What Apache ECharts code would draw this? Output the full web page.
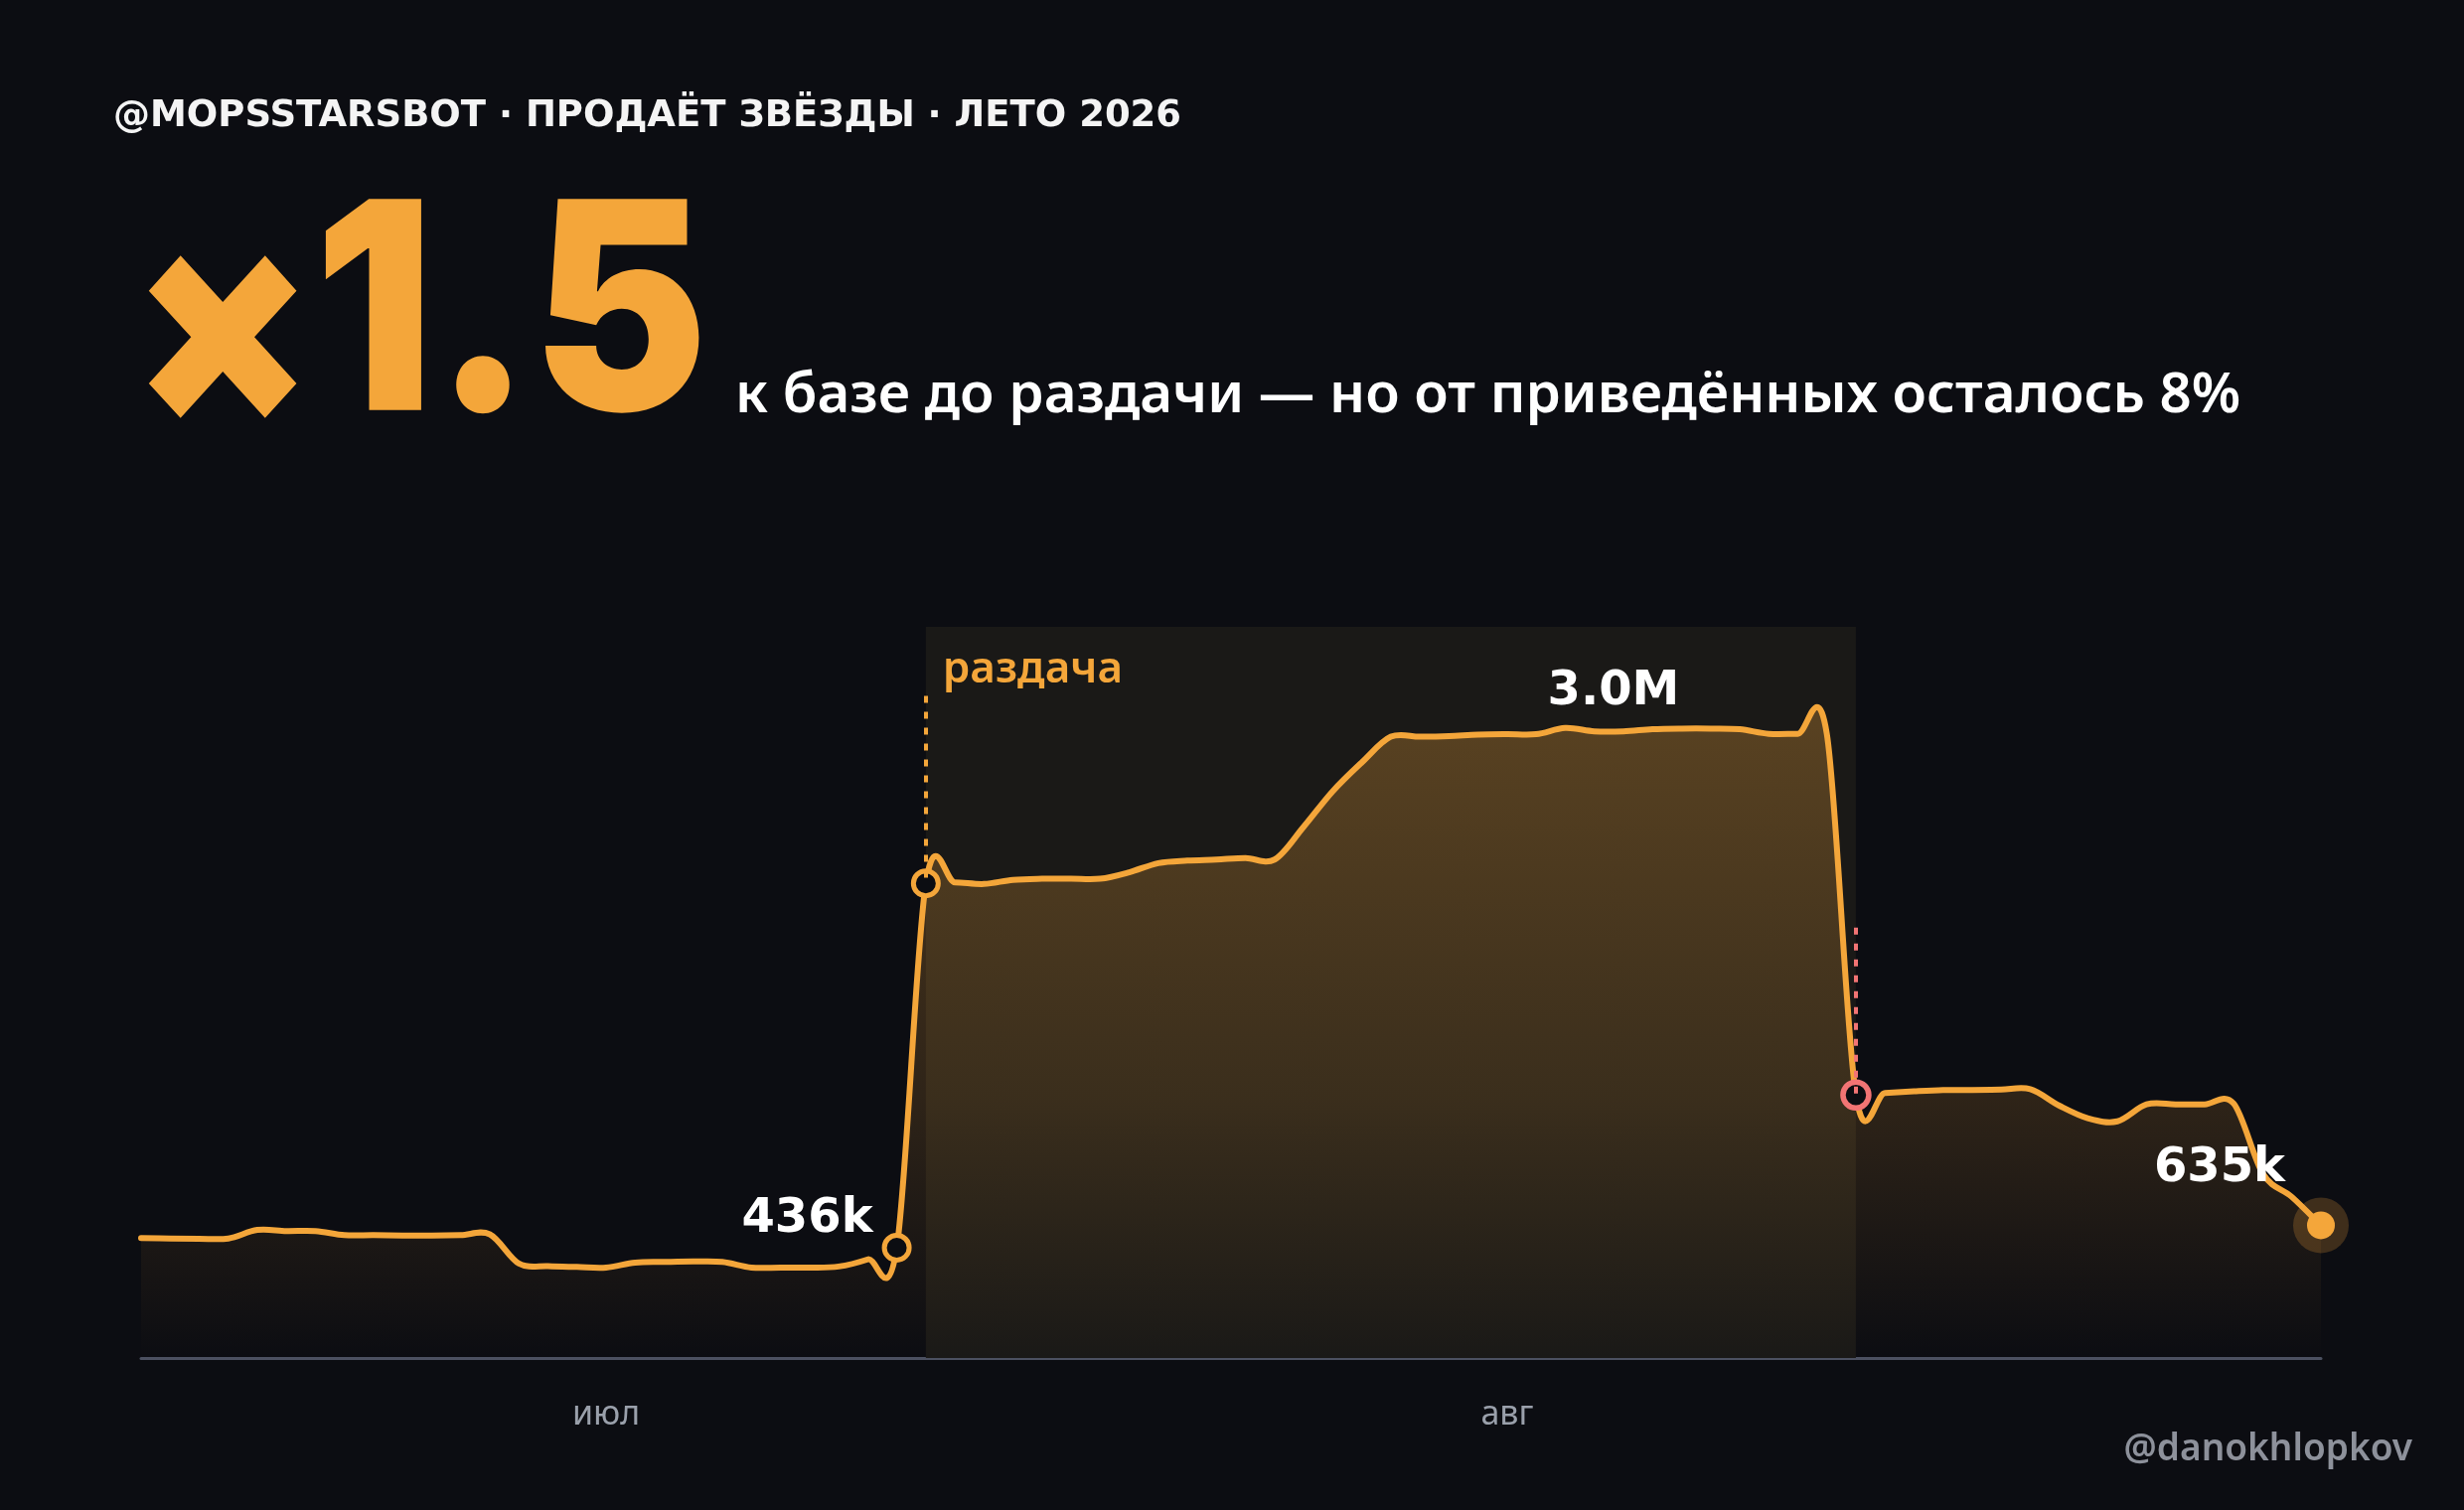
<!DOCTYPE html>
<html>
<head>
<meta charset="utf-8">
<script src="https://cdn.jsdelivr.net/npm/echarts@6/dist/echarts.min.js"></script>
<style>
  html, body { margin: 0; padding: 0; background: #0c0d12; }
  #chart { width: 2480px; height: 1520px; }
</style>
</head>
<body>
<div id="chart"></div>
<script>
// --- данные: аудитория по дням, млн ---
var START_DATE = '2026-06-15';
var AUDIENCE_M = [
  0.574, 0.572, 0.571, 0.572, 0.613, 0.608, 0.608, 0.588, 0.588, 0.586,
  0.586, 0.588, 0.592, 0.452, 0.440, 0.436, 0.433, 0.457, 0.460, 0.462,
  0.460, 0.433, 0.433, 0.433, 0.438, 0.472, 0.528, 2.272, 2.277, 2.269,
  2.289, 2.294, 2.294, 2.294, 2.325, 2.369, 2.381, 2.386, 2.393, 2.386,
  2.543, 2.713, 2.851, 2.974, 2.974, 2.977, 2.984, 2.986, 2.986, 3.016,
  3.000, 3.000, 3.010, 3.013, 3.013, 3.010, 2.988, 2.988, 2.988, 1.259,
  1.269, 1.277, 1.283, 1.283, 1.285, 1.287, 1.208, 1.147, 1.133, 1.214,
  1.214, 1.214, 1.218, 0.883, 0.771, 0.635
];
var MONTHS_RU = ['янв', 'фев', 'мар', 'апр', 'май', 'июн', 'июл', 'авг', 'сен', 'окт', 'ноя', 'дек'];

// ключевые точки
var BASE_IDX = 26;        // последняя точка до раздачи
var GIVE_START_IDX = 27;  // старт раздачи
var GIVE_END_IDX = 59;    // конец раздачи
var PEAK_IDX = 51;
var LAST_IDX = AUDIENCE_M.length - 1;
var BASE_LABEL = '436k';
var PEAK_LABEL = '3.0M';
var LAST_LABEL = '635k';
var GIVE_LABEL = 'раздача';

var HEADER = '@MOPSSTARSBOT · ПРОДАЁТ ЗВЁЗДЫ · ЛЕТО 2026';
var BIG = '×1.5';
var SUBTITLE = 'к базе до раздачи — но от приведённых осталось 8%';
var CREDIT = '@danokhlopkov';

var Y_MAX = 3.5;
var DASH_TOPS = [3.17, 2.06];   // где начинаются пунктирные вертикали

var ORANGE = '#f4a63a';
var RED = '#f27474';
var BG = '#0c0d12';

var DATES = [];
(function () {
    var d = new Date(START_DATE + 'T00:00:00Z');
    for (var i = 0; i < AUDIENCE_M.length; i++) {
        DATES.push(d.toISOString().slice(0, 10));
        d.setUTCDate(d.getUTCDate() + 1);
    }
})();

// Catmull-Rom -> bezier, точки уже в пикселях
function splinePath(pts) {
    var d = 'M' + pts[0][0] + ' ' + pts[0][1];
    for (var i = 0; i < pts.length - 1; i++) {
        var p0 = pts[i - 1] || pts[i], p1 = pts[i], p2 = pts[i + 1], p3 = pts[i + 2] || p2;
        var c1x = p1[0] + (p2[0] - p0[0]) / 6, c1y = p1[1] + (p2[1] - p0[1]) / 6;
        var c2x = p2[0] - (p3[0] - p1[0]) / 6, c2y = p2[1] - (p3[1] - p1[1]) / 6;
        d += ' C' + c1x + ' ' + c1y + ' ' + c2x + ' ' + c2y + ' ' + p2[0] + ' ' + p2[1];
    }
    return d;
}

var labelFont = { color: '#ffffff', fontFamily: 'DejaVu Sans', fontWeight: 'bold', fontSize: 48 };

var chart = echarts.init(document.getElementById('chart'));

chart.setOption({
    backgroundColor: BG,
    animation: false,
    grid: { left: 142, right: 144, top: 631, bottom: 153 },
    xAxis: {
        type: 'category',
        data: DATES,
        boundaryGap: false,
        axisLine: { lineStyle: { color: '#4b5060', width: 3 } },
        axisTick: { show: false },
        splitLine: { show: false },
        axisLabel: {
            interval: 0,
            formatter: function (value) {
                return value.slice(8) === '01' ? MONTHS_RU[+value.slice(5, 7) - 1] : '';
            },
            color: '#9aa0ab',
            fontFamily: 'Noto Sans',
            fontSize: 34,
            margin: 40
        }
    },
    yAxis: { type: 'value', min: 0, max: Y_MAX, show: false, splitLine: { show: false } },
    graphic: [
        { type: 'text', x: 114, y: 117, style: { text: HEADER, fill: '#f4f4f4', fontFamily: 'DejaVu Sans', fontWeight: 'bold', fontSize: 37, verticalAlign: 'middle' } },
        {
            type: 'text', x: 132, y: 325, scaleX: 0.91,
            style: {
                text: '{x|' + BIG.charAt(0) + '}{n|' + BIG.slice(1) + '}',
                fill: ORANGE, fontFamily: 'Inter', fontWeight: 900, fontSize: 292, verticalAlign: 'middle',
                rich: {
                    x: { fill: ORANGE, fontFamily: 'Inter', fontWeight: 900, fontSize: 292, padding: [25, 0, 0, 0] },
                    n: { fill: ORANGE, fontFamily: 'Inter', fontWeight: 900, fontSize: 292 }
                }
            }
        },
        { type: 'text', x: 740, y: 399, style: { text: SUBTITLE, fill: '#ffffff', fontFamily: 'Noto Sans', fontWeight: 600, fontSize: 56.5, verticalAlign: 'middle' } },
        { type: 'text', x: 2428, y: 1459, style: { text: CREDIT, fill: '#8d919b', fontFamily: 'Noto Sans', fontWeight: 600, fontSize: 37, align: 'right', verticalAlign: 'middle' } }
    ],
    series: [
        {
            // подложка периода раздачи + пунктиры
            type: 'line',
            data: [],
            z: 1,
            markArea: {
                silent: true,
                itemStyle: { color: '#1a1917' },
                label: {
                    show: true,
                    position: [17, 21],
                    color: ORANGE,
                    fontFamily: 'Noto Sans',
                    fontWeight: 600,
                    fontSize: 44
                },
                data: [[{ name: GIVE_LABEL, xAxis: GIVE_START_IDX }, { xAxis: GIVE_END_IDX }]]
            },
            markLine: {
                silent: true,
                symbol: ['none', 'none'],
                label: { show: false },
                data: [
                    [{ coord: [GIVE_START_IDX, DASH_TOPS[0]], lineStyle: { color: ORANGE, width: 4, type: [7, 9] } },
                     { coord: [GIVE_START_IDX, AUDIENCE_M[GIVE_START_IDX]] }],
                    [{ coord: [GIVE_END_IDX, DASH_TOPS[1]], lineStyle: { color: RED, width: 4, type: [7, 9] } },
                     { coord: [GIVE_END_IDX, AUDIENCE_M[GIVE_END_IDX]] }]
                ]
            }
        },
        {
            type: 'custom',
            z: 2,
            data: AUDIENCE_M.map(function (v, i) { return [i, v]; }),
            renderItem: function (params, api) {
                if (params.dataIndex !== 0) return null;
                var pts = AUDIENCE_M.map(function (v, i) { return api.coord([i, v]); });
                var base = api.coord([0, 0])[1];
                var line = splinePath(pts);
                var last = pts[pts.length - 1];
                var area = line + ' L' + last[0] + ' ' + base + ' L' + pts[0][0] + ' ' + base + ' Z';
                return {
                    type: 'group',
                    children: [
                        {
                            type: 'path',
                            shape: { pathData: area },
                            style: {
                                fill: {
                                    type: 'linear', x: 0, y: 0, x2: 0, y2: 1,
                                    colorStops: [
                                        { offset: 0, color: 'rgba(244,166,58,0.29)' },
                                        { offset: 0.6, color: 'rgba(244,166,58,0.15)' },
                                        { offset: 1, color: 'rgba(244,166,58,0.0)' }
                                    ]
                                },
                                stroke: null
                            }
                        },
                        {
                            type: 'path',
                            shape: { pathData: line },
                            style: { fill: null, stroke: ORANGE, lineWidth: 6, lineJoin: 'round', lineCap: 'round' }
                        }
                    ]
                };
            }
        },
        {
            type: 'scatter',
            z: 3,
            symbol: 'circle',
            symbolSize: 25,
            itemStyle: { color: BG, borderColor: ORANGE, borderWidth: 5, opacity: 1 },
            data: [
                { value: [BASE_IDX, AUDIENCE_M[BASE_IDX]],
                  label: Object.assign({ show: true, formatter: BASE_LABEL, position: 'left', distance: 9, offset: [0, -28] }, labelFont) },
                { value: [GIVE_START_IDX, AUDIENCE_M[GIVE_START_IDX]] }
            ]
        },
        {
            type: 'scatter',
            z: 3,
            symbol: 'circle',
            symbolSize: 26,
            itemStyle: { color: BG, borderColor: RED, borderWidth: 5.5, opacity: 1 },
            data: [[GIVE_END_IDX, AUDIENCE_M[GIVE_END_IDX]]]
        },
        {
            type: 'scatter',
            z: 3,
            symbolSize: 56,
            itemStyle: { color: 'rgba(244,166,58,0.22)', opacity: 1 },
            data: [[LAST_IDX, AUDIENCE_M[LAST_IDX]]]
        },
        {
            type: 'scatter',
            z: 4,
            symbolSize: 28,
            itemStyle: { color: ORANGE, opacity: 1 },
            data: [
                { value: [LAST_IDX, AUDIENCE_M[LAST_IDX]],
                  label: Object.assign({ show: true, formatter: LAST_LABEL, position: 'left', distance: 22, offset: [0, -57] }, labelFont) }
            ]
        },
        {
            type: 'scatter',
            z: 4,
            symbolSize: 1,
            itemStyle: { color: 'rgba(0,0,0,0)', opacity: 1 },
            data: [
                { value: [PEAK_IDX, AUDIENCE_M[PEAK_IDX]],
                  label: Object.assign({ show: true, formatter: PEAK_LABEL, position: 'top', distance: 15, offset: [-10, 0] }, labelFont) }
            ]
        }
    ]
});
</script>
</body>
</html>
